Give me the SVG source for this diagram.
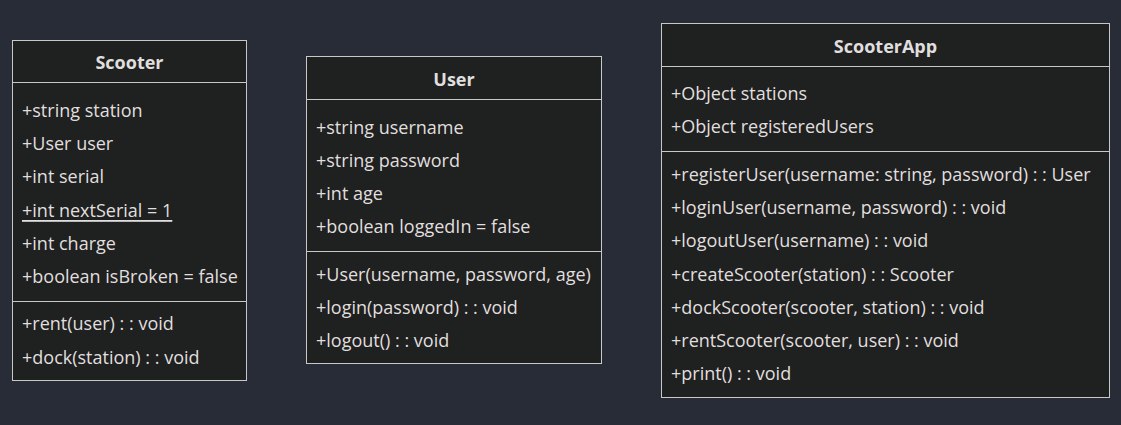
<svg xmlns="http://www.w3.org/2000/svg" width="1121" height="425" viewBox="0 0 1121 425">
<style>
.bg{fill:#282c36}
.box{fill:#1f2020;stroke:#c8c8c8;stroke-width:1}
.sep{stroke:#c8c8c8;stroke-width:1}
text{font-family:"Open Sans","DejaVu Sans",sans-serif;font-size:18px;font-weight:500;fill:#e0dfdf;dominant-baseline:central}
.title{font-weight:bold;text-anchor:middle}
.ul{text-decoration:underline}
</style>
<rect class="bg" x="0" y="0" width="1121" height="425"/>
<g id="Scooter">
<rect class="box" x="12.5" y="40.5" width="234" height="340"/>
<line class="sep" x1="12.5" y1="82.5" x2="246.5" y2="82.5"/>
<line class="sep" x1="12.5" y1="301.5" x2="246.5" y2="301.5"/>
<text class="title" x="129.5" y="62">Scooter</text>
<text x="22" y="110">+string station</text>
<text x="22" y="143">+User user</text>
<text x="22" y="176">+int serial</text>
<text x="22" y="210" class="ul">+int nextSerial = 1</text>
<text x="22" y="243">+int charge</text>
<text x="22" y="276">+boolean isBroken = false</text>
<text x="22" y="323">+rent(user) : : void</text>
<text x="22" y="357">+dock(station) : : void</text>
</g>
<g id="User">
<rect class="box" x="306.5" y="56.5" width="295" height="307"/>
<line class="sep" x1="306.5" y1="99.5" x2="601.5" y2="99.5"/>
<line class="sep" x1="306.5" y1="251.5" x2="601.5" y2="251.5"/>
<text class="title" x="454" y="79">User</text>
<text x="316" y="127">+string username</text>
<text x="316" y="160">+string password</text>
<text x="316" y="193">+int age</text>
<text x="316" y="226">+boolean loggedIn = false</text>
<text x="316" y="274">+User(username, password, age)</text>
<text x="316" y="307">+login(password) : : void</text>
<text x="316" y="340">+logout() : : void</text>
</g>
<g id="ScooterApp">
<rect class="box" x="661.5" y="23.5" width="448" height="374"/>
<line class="sep" x1="661.5" y1="66.5" x2="1109.5" y2="66.5"/>
<line class="sep" x1="661.5" y1="151.5" x2="1109.5" y2="151.5"/>
<text class="title" x="885.5" y="46">ScooterApp</text>
<text x="671" y="93">+Object stations</text>
<text x="671" y="126">+Object registeredUsers</text>
<text x="671" y="174">+registerUser(username: string, password) : : User</text>
<text x="671" y="207">+loginUser(username, password) : : void</text>
<text x="671" y="240">+logoutUser(username) : : void</text>
<text x="671" y="274">+createScooter(station) : : Scooter</text>
<text x="671" y="307">+dockScooter(scooter, station) : : void</text>
<text x="671" y="340">+rentScooter(scooter, user) : : void</text>
<text x="671" y="373">+print() : : void</text>
</g>
<g id="connectors"></g>
</svg>
